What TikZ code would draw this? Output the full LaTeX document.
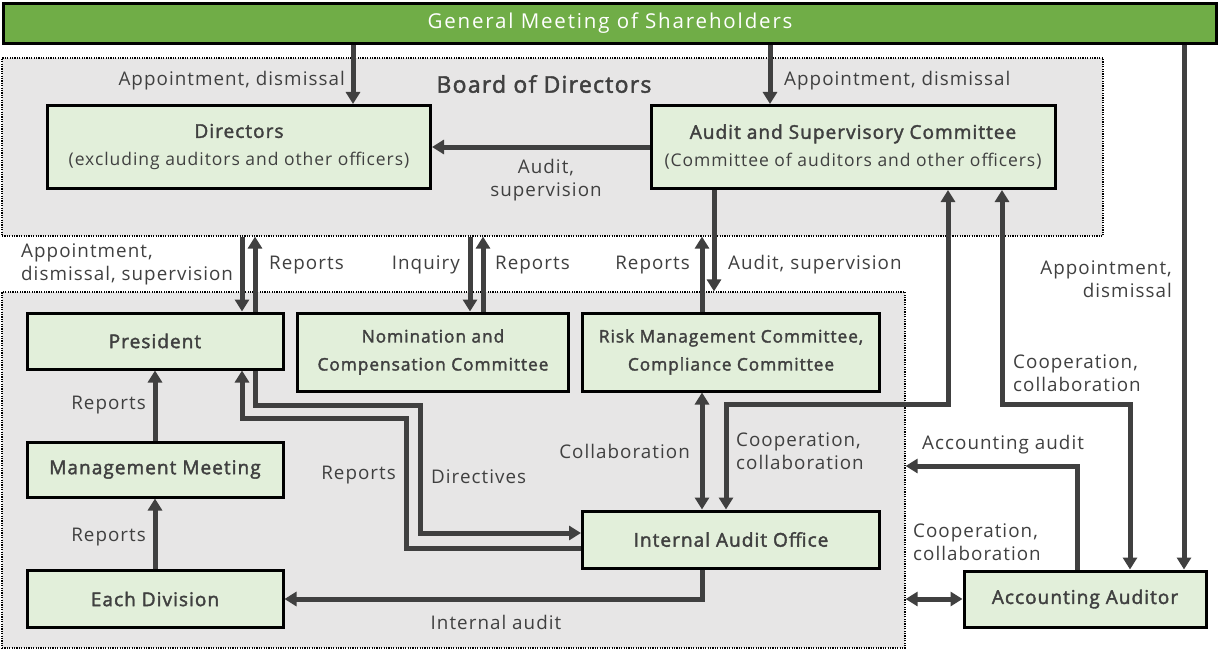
\documentclass[tikz,border=0pt]{standalone}
\usepackage{fontspec}
\setmainfont{Open Sans}[LetterSpace=5.5, AutoFakeBold=2]
\newfontfamily\gmfont{Open Sans}[LetterSpace=9]
\usetikzlibrary{arrows.meta}
\definecolor{ink}{HTML}{404040}
\definecolor{gmgreen}{HTML}{70AD47}
\definecolor{boxfill}{HTML}{E2EFDA}
\definecolor{regfill}{HTML}{E7E6E6}
\tikzset{
  box/.style={draw=black, line width=3pt, fill=boxfill, inner sep=0pt, align=center, text=ink,
    font=\fontsize{19}{23}\selectfont\bfseries},
  region/.style={draw=black, line width=1.2pt, dash pattern=on 1.2pt off 1.2pt, fill=regfill, inner sep=0pt},
  lab/.style={text=ink, inner sep=0pt, font=\fontsize{18.8}{23}\selectfont},
  arr/.style={draw=ink, line width=5pt, -{Triangle[width=14pt,length=12pt]}},
  arr2/.style={draw=ink, line width=5pt, {Triangle[width=14pt,length=12pt]}-{Triangle[width=14pt,length=12pt]}},
}
\begin{document}
\begin{tikzpicture}[x=1pt,y=-1pt]
\useasboundingbox (0,0) rectangle (1220,650);
\fill[white] (0,0) rectangle (1220,650);
% regions
\node[region, minimum width=1101pt, minimum height=178pt] (board) at (552.5,147) {};
\node[region, minimum width=903pt, minimum height=356pt] (lower) at (453.5,470) {};
\node[lab, font=\fontsize{23}{26}\selectfont\bfseries] (boardlab) at (544,84) {Board of Directors};
% general meeting
\node[draw=black, line width=3pt, fill=gmgreen, minimum width=1213pt, minimum height=40pt, inner sep=0pt,
  text=white, font=\gmfont\fontsize{20.5}{24}\selectfont] (GM) at (610,23.5) {\raisebox{-1.5pt}{General Meeting of Shareholders}};
% boxes
\node[box, minimum width=383pt, minimum height=83pt] (Dir) at (239,147)
  {Directors\\[5pt]{\fontsize{17.5}{20}\selectfont\mdseries (excluding auditors and other officers)}};
\node[box, minimum width=404pt, minimum height=83pt] (ASC) at (853,147)
  {Audit and Supervisory Committee\\[5pt]{\fontsize{17.5}{20}\selectfont\mdseries (Committee of auditors and other officers)}};
\node[box, minimum width=256pt, minimum height=56pt] (Pres) at (155,341) {President};
\node[box, minimum width=271pt, minimum height=78pt, font=\fontsize{17.3}{28}\selectfont\bfseries] (NCC) at (433,352) {Nomination and\\Compensation Committee};
\node[box, minimum width=297pt, minimum height=78pt, font=\fontsize{17.3}{28}\selectfont\bfseries] (RMC) at (731,352) {Risk Management Committee,\\Compliance Committee};
\node[box, minimum width=256pt, minimum height=55pt] (MM) at (155,469.5) {Management Meeting};
\node[box, minimum width=256pt, minimum height=57pt] (ED) at (155,599) {Each Division};
\node[box, minimum width=297pt, minimum height=57pt] (IAO) at (731,539.5) {Internal Audit Office};
\node[box, minimum width=242pt, minimum height=56pt] (AA) at (1085,599) {Accounting Auditor};
% helper coordinates
\coordinate (c242) at (242,0);
\coordinate (c255) at (255,0);
\coordinate (c353) at (353,0);
\coordinate (c406) at (406,0);
\coordinate (c420) at (420,0);
\coordinate (c470) at (470,0);
\coordinate (c483) at (483,0);
\coordinate (c702) at (702,0);
\coordinate (c714) at (714,0);
\coordinate (c726) at (726,0);
\coordinate (c770) at (770,0);
\coordinate (c948) at (948,0);
\coordinate (c1002) at (1002,0);
\coordinate (c1077) at (1077,0);
\coordinate (c1130) at (1130,0);
\coordinate (c1184) at (1184,0);
\coordinate (r404) at (0,404);
\coordinate (r405) at (0,405);
\coordinate (r418) at (0,418);
\coordinate (r466) at (0,466);
\coordinate (r533) at (0,533);
\coordinate (r548) at (0,548);
% connectors
\draw[arr] (GM.south -| c353) -- (Dir.north -| c353);
\draw[arr] (GM.south -| c770) -- (ASC.north -| c770);
\draw[arr] (ASC.west) -- (Dir.east);
\draw[arr] (GM.south -| c1184) -- (AA.north -| c1184);
\draw[arr] (board.south -| c242) -- (Pres.north -| c242);
\draw[arr] (Pres.north -| c255) -- (board.south -| c255);
\draw[arr] (board.south -| c470) -- (NCC.north -| c470);
\draw[arr] (NCC.north -| c483) -- (board.south -| c483);
\draw[arr] (RMC.north -| c702) -- (board.south -| c702);
\draw[arr] (ASC.south -| c714) -- (lower.north -| c714);
\draw[arr2] (RMC.south -| c702) -- (IAO.north -| c702);
\draw[arr2] (IAO.north -| c726) |- (r404 -| c948) -- (ASC.south -| c948);
\draw[arr2] (ASC.south -| c1002) |- (r404 -| c1130) -- (AA.north -| c1130);
\draw[arr] (AA.north -| c1077) |- (lower.east |- r466);
\draw[arr2] (AA.west -| lower.east) -- (AA.west);
\draw[arr] (Pres.south -| c255) |- (r405 -| c420) |- (IAO.west |- r533);
\draw[arr] (IAO.west |- r548) -| (r418 -| c406) -| (Pres.south -| c242);
\draw[arr] (ED.north) -- (MM.south);
\draw[arr] (MM.north) -- (Pres.south);
\draw[arr] (IAO.south -| c702) |- (ED.east);
% labels
\node[lab, anchor=east] (l1) at (345,81) {Appointment, dismissal};
\node[lab, anchor=west] (l2) at (784,81) {Appointment, dismissal};
\node[lab, align=center] (l3) at (546,180) {Audit,\\supervision};
\node[lab, align=left, anchor=west] (l4) at (21,264) {Appointment,\\dismissal, supervision};
\node[lab, anchor=west] (l5) at (269,265) {Reports};
\node[lab, anchor=east] (l6) at (460,265) {Inquiry};
\node[lab, anchor=west] (l7) at (495,265) {Reports};
\node[lab, anchor=east] (l8) at (690,265) {Reports};
\node[lab, anchor=west] (l9) at (728,265) {Audit, supervision};
\node[lab, align=right, anchor=east] (l10) at (1172,279) {Appointment,\\dismissal};
\node[lab, align=left, anchor=west] (l11) at (1013,373) {Cooperation,\\collaboration};
\node[lab, anchor=west] (l12) at (922,445) {Accounting audit};
\node[lab, align=left, anchor=west] (l13) at (736,451) {Cooperation,\\collaboration};
\node[lab, anchor=east] (l14) at (690,451) {Collaboration};
\node[lab, anchor=east] (l15) at (146,405) {Reports};
\node[lab, anchor=east] (l16) at (396,475) {Reports};
\node[lab, anchor=west] (l17) at (431,477) {Directives};
\node[lab, align=left, anchor=west] (l18) at (913,542) {Cooperation,\\collaboration};
\node[lab, anchor=east] (l19) at (146,537) {Reports};
\node[lab] (l20) at (496,622) {Internal audit};
\end{tikzpicture}
\end{document}
